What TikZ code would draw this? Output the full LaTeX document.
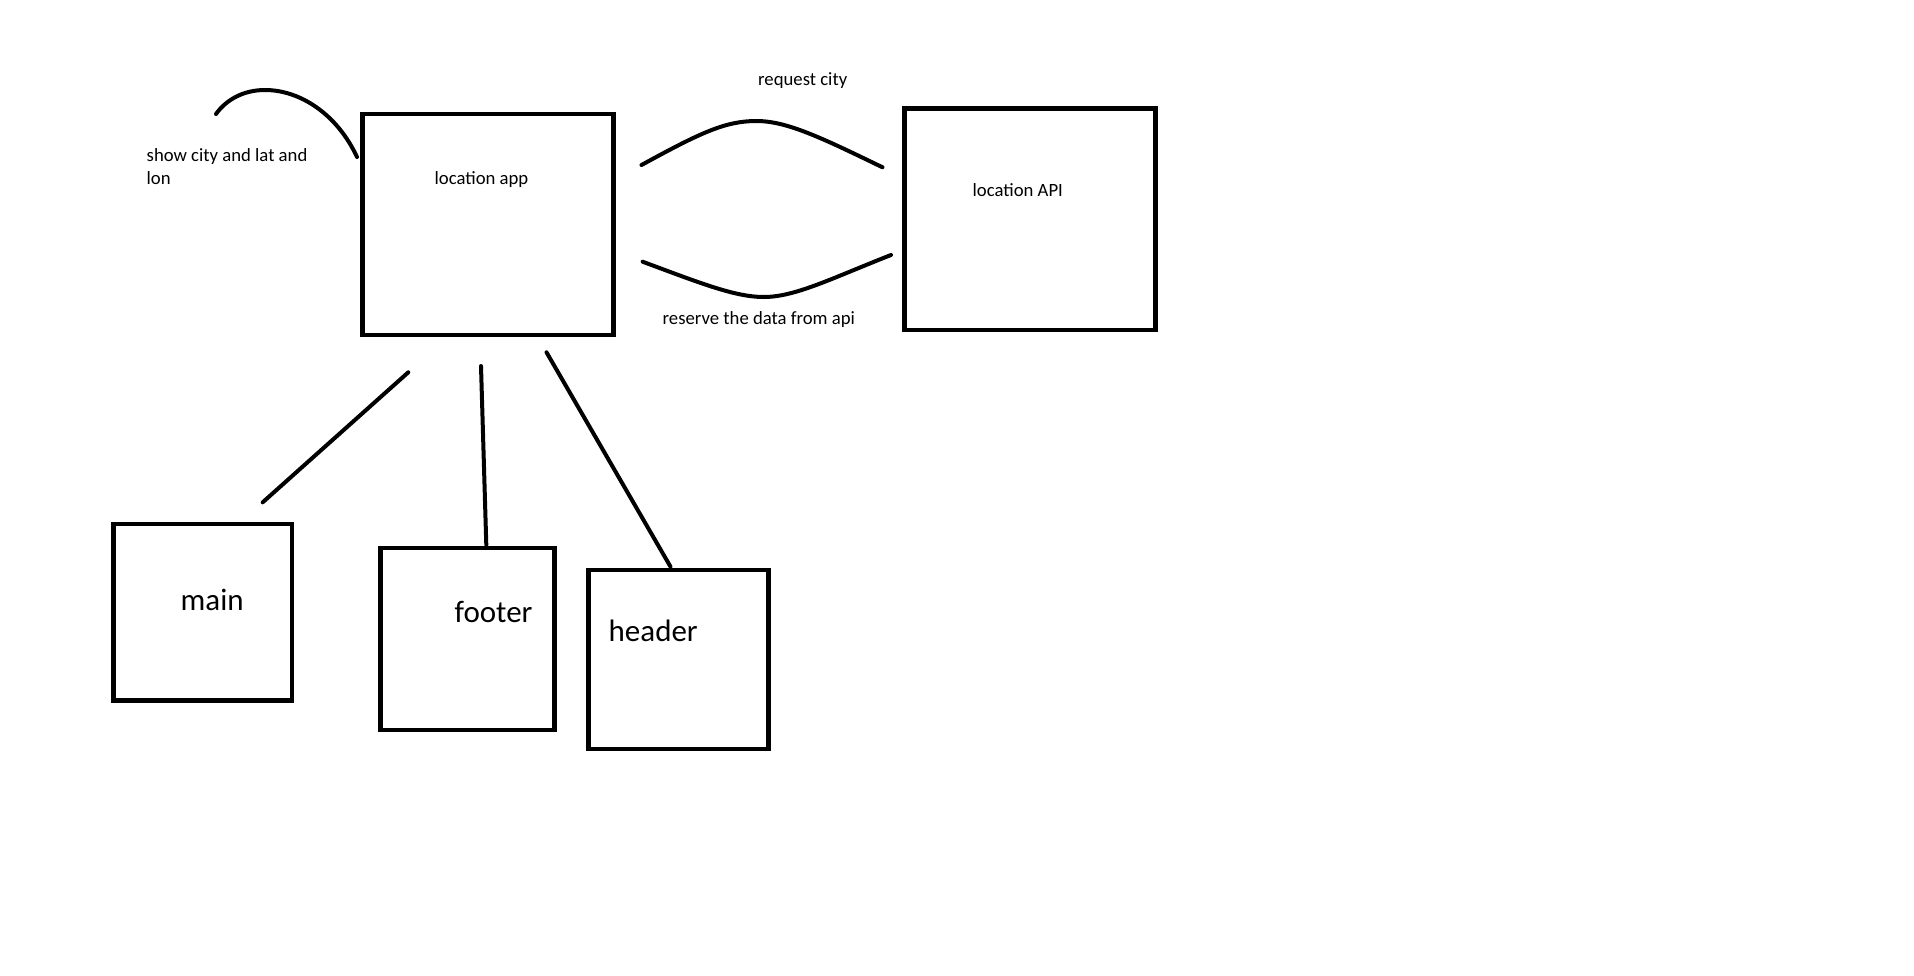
\documentclass[tikz,border=0pt]{standalone}
\usepackage{fontspec}
\setmainfont{Carlito}
\begin{document}
\begin{tikzpicture}[x=1pt,y=-1pt,
  box/.style={draw=black, line width=4.5pt, rectangle, inner sep=0pt},
  wire/.style={draw=black, line width=4pt, line cap=round},
  smalltxt/.style={anchor=base west, inner sep=0pt, font=\fontsize{18.7}{23}\selectfont},
  bigtxt/.style={anchor=base west, inner sep=0pt, font=\fontsize{31}{37}\selectfont}]
\useasboundingbox[fill=white] (0,0) rectangle (1914,975);

% boxes
\node[box, minimum width=250.8pt, minimum height=221.2pt] (app) at (487.9,224.4) {};
\node[box, minimum width=251pt, minimum height=221.7pt] (api) at (1030,219.15) {};
\node[box, minimum width=178.9pt, minimum height=176.5pt] (main) at (202.75,612.05) {};
\node[box, minimum width=173.7pt, minimum height=182.2pt] (footer) at (467.5,638.9) {};
\node[box, minimum width=180pt, minimum height=179.4pt] (header) at (678.3,659.5) {};

% texts
\node[smalltxt] (tapp) at (434.5,184) {location app};
\node[smalltxt] (tapi) at (972.5,196) {location API};
\node[smalltxt] (treq) at (758,85.7) {request city};
\node[smalltxt] (tres) at (662.5,324.3) {reserve the data from api};
\node[smalltxt] (tshow1) at (146.5,161) {show city and lat and};
\node[smalltxt] (tshow2) at (146.5,184) {lon};
\node[bigtxt] (tmain) at (180.5,610.7) {main};
\node[bigtxt] (tfooter) at (454.5,622.7) {footer};
\node[bigtxt] (theader) at (608.5,641) {header};

% connector ends
\coordinate (m1) at (408.3,372.3);
\coordinate (m2) at (262.7,502.3);
\coordinate (f1) at (481,366);
\coordinate (f2) at (486.3,545);
\coordinate (h1) at (546.5,352.3);
\coordinate (h2) at (670.5,566.7);
\coordinate (a1) at (216,114);
\coordinate (a2) at (265,90);
\coordinate (a3) at (357,157);
\coordinate (u1) at (641.5,165);
\coordinate (u2) at (756.4,121);
\coordinate (u3) at (882.5,167.3);
\coordinate (l1) at (642.6,261.7);
\coordinate (l2) at (763.6,297);
\coordinate (l3) at (891,255);

\draw[wire] (m1) -- (m2);
\draw[wire] (f1) -- (f2);
\draw[wire] (h1) -- (h2);
\draw[wire] (a1) .. controls (226,100) and (243,90) .. (a2) .. controls (300,90) and (337,114) .. (a3);
\draw[wire] (u1) .. controls (700,133) and (725,121) .. (u2) .. controls (787,121) and (822,138) .. (u3);
\draw[wire] (l1) .. controls (700,283) and (735,297) .. (l2) .. controls (795,297) and (830,279) .. (l3);
\end{tikzpicture}
\end{document}
